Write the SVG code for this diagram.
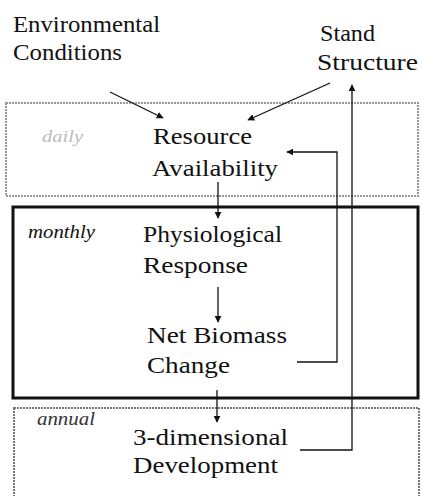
<svg xmlns="http://www.w3.org/2000/svg" width="422" height="496" viewBox="0 0 422 496">
<defs>
<marker id="ah" viewBox="0 0 10 10" refX="9" refY="5" markerWidth="7" markerHeight="7" markerUnits="userSpaceOnUse" orient="auto">
<path d="M0,0 L10,5 L0,10 z" fill="#111"/>
</marker>
<style>
.c{stroke:#111;stroke-width:1.3;fill:none}
</style>
</defs>
<rect width="422" height="496" fill="#fff"/>
<g id="daily">
<rect x="6" y="103" width="412" height="93" fill="none" stroke="#999" stroke-width="2" stroke-dasharray="2 1"/>
<text x="42" y="142" font-family="Liberation Serif" font-style="italic" font-size="16" fill="#bbb" textLength="41" lengthAdjust="spacingAndGlyphs">daily</text>
</g>
<g id="monthly">
<rect x="13" y="207" width="405" height="191" fill="none" stroke="#111" stroke-width="3"/>
<text x="28" y="238" font-family="Liberation Serif" font-style="italic" font-size="18" fill="#111" textLength="67" lengthAdjust="spacingAndGlyphs">monthly</text>
</g>
<g id="annual">
<rect x="14" y="408" width="405" height="100" fill="none" stroke="#777" stroke-width="2" stroke-dasharray="2 1"/>
<text x="37" y="425" font-family="Liberation Serif" font-style="italic" font-size="18" fill="#333" textLength="58" lengthAdjust="spacingAndGlyphs">annual</text>
</g>
<g id="environmental-conditions" font-family="Liberation Serif" font-size="23" fill="#111">
<text x="13" y="32" textLength="147" lengthAdjust="spacingAndGlyphs">Environmental</text>
<text x="13" y="60" textLength="109" lengthAdjust="spacingAndGlyphs">Conditions</text>
</g>
<g id="stand-structure" font-family="Liberation Serif" font-size="23" fill="#111">
<text x="320" y="41" textLength="55" lengthAdjust="spacingAndGlyphs">Stand</text>
<text x="317" y="70" textLength="101" lengthAdjust="spacingAndGlyphs">Structure</text>
</g>
<g id="resource-availability" font-family="Liberation Serif" font-size="24" fill="#111">
<text x="153" y="144" textLength="99" lengthAdjust="spacingAndGlyphs">Resource</text>
<text x="152" y="176" textLength="126" lengthAdjust="spacingAndGlyphs">Availability</text>
</g>
<g id="physiological-response" font-family="Liberation Serif" font-size="24" fill="#111">
<text x="143" y="242" textLength="139" lengthAdjust="spacingAndGlyphs">Physiological</text>
<text x="143" y="273" textLength="105" lengthAdjust="spacingAndGlyphs">Response</text>
</g>
<g id="net-biomass-change" font-family="Liberation Serif" font-size="24" fill="#111">
<text x="147" y="343" textLength="140" lengthAdjust="spacingAndGlyphs">Net Biomass</text>
<text x="147" y="373" textLength="83" lengthAdjust="spacingAndGlyphs">Change</text>
</g>
<g id="three-dimensional-development" font-family="Liberation Serif" font-size="24" fill="#111">
<text x="133" y="445" textLength="155" lengthAdjust="spacingAndGlyphs">3-dimensional</text>
<text x="133" y="473" textLength="145" lengthAdjust="spacingAndGlyphs">Development</text>
</g>
<g id="connectors">
<line class="c" x1="110" y1="92" x2="163" y2="118" marker-end="url(#ah)"/>
<line class="c" x1="330" y1="83" x2="248" y2="120" marker-end="url(#ah)"/>
<line class="c" x1="218" y1="182" x2="218" y2="218" marker-end="url(#ah)"/>
<line class="c" x1="218" y1="287" x2="218" y2="322" marker-end="url(#ah)"/>
<line class="c" x1="217" y1="390" x2="217" y2="422" marker-end="url(#ah)"/>
<polyline class="c" points="297,362 337,362 337,152 287,152" marker-end="url(#ah)"/>
<polyline class="c" points="300,450 352,450 352,85" marker-end="url(#ah)"/>
</g>
</svg>
